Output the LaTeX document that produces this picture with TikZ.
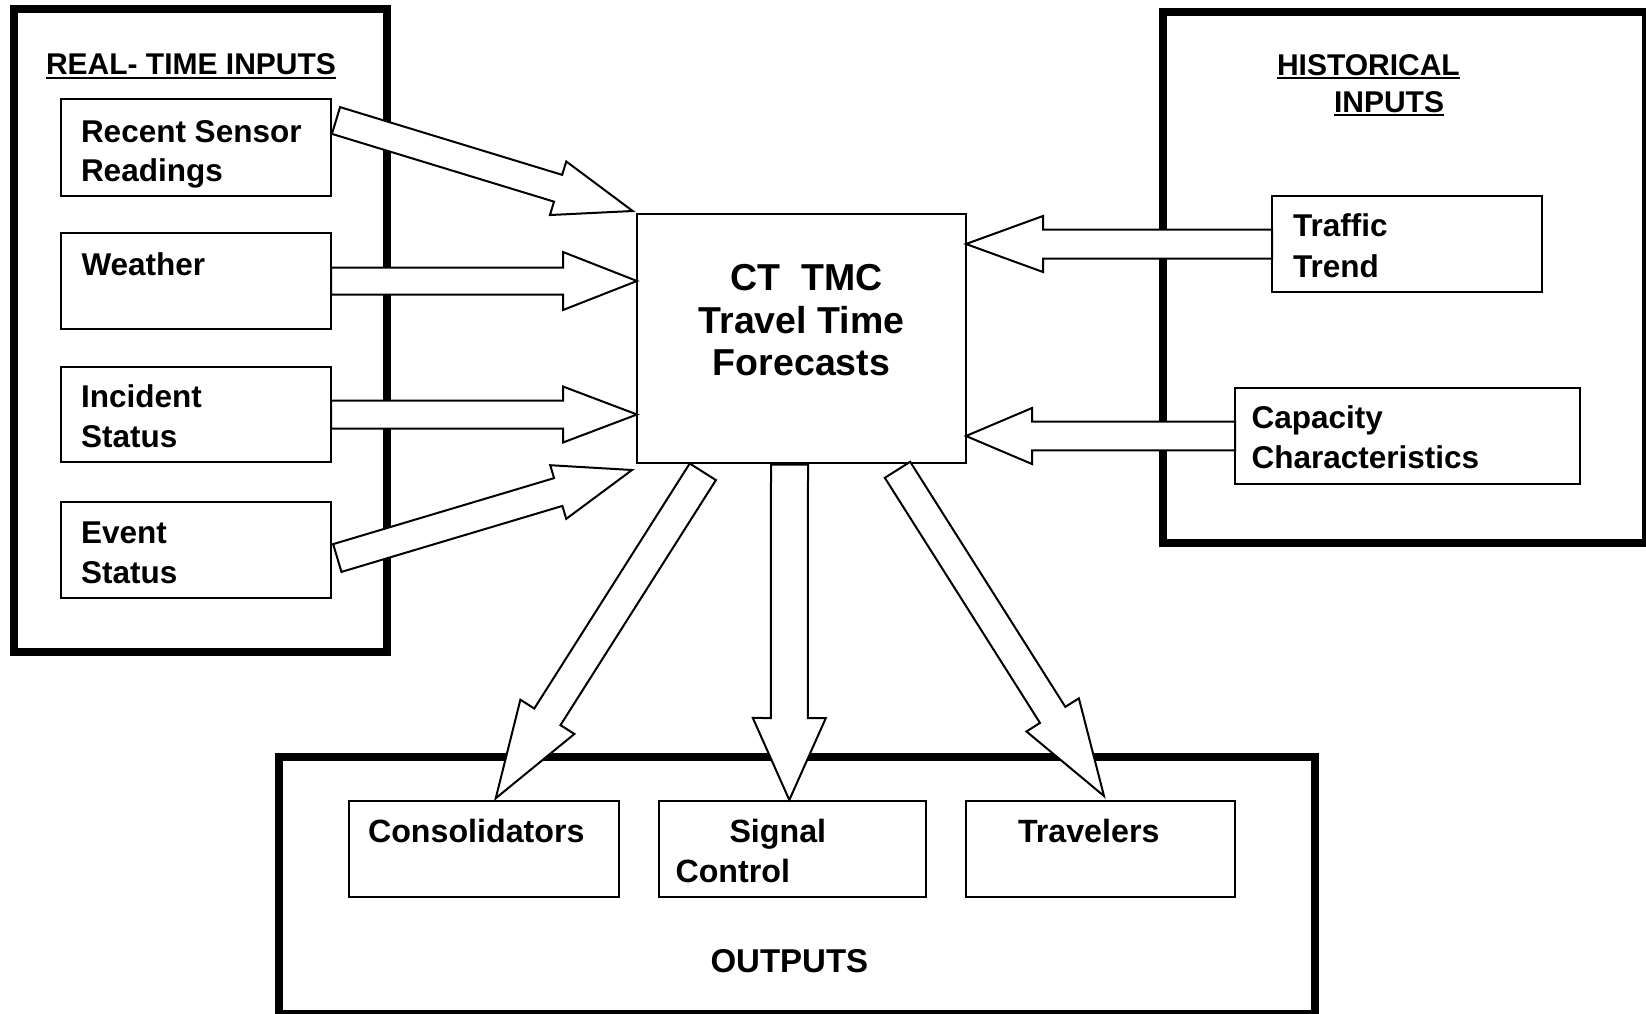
\documentclass[tikz,border=0pt]{standalone}
\usepackage{fontspec}
\setmainfont{Liberation Sans}
\usetikzlibrary{calc}
\newcommand\boxfont{\fontsize{31.5}{38}\selectfont\bfseries}
\newcommand\outfont{\fontsize{32.2}{38}\selectfont\bfseries}
\newcommand\ttlfont{\fontsize{30}{36}\selectfont\bfseries}
\newcommand\cenfont{\fontsize{37.5}{42}\selectfont\bfseries}
% block arrow: #1 shaft half width, #2 head half width, #3 head length, #4 start, #5 tip
\newcommand\barrow[5]{%
  \path ($(#5)!#3!(#4)$) coordinate (hbtmp);
  \draw[arr] ($(#4)!#1!90:(#5)$) -- ($(hbtmp)!#1!90:(#5)$) -- ($(hbtmp)!#2!90:(#5)$) -- (#5)
    -- ($(hbtmp)!#2!-90:(#5)$) -- ($(hbtmp)!#1!-90:(#5)$) -- ($(#4)!#1!-90:(#5)$) -- cycle;
}
\tikzset{
  frame/.style={draw, line width=8pt, inner sep=0pt, outer sep=0pt},
  thinbox/.style={draw, line width=2pt, fill=white, inner sep=0pt, outer sep=0pt, anchor=north west, minimum height=96pt},
  arr/.style={draw, line width=2pt, fill=white, line join=miter},
  lbl/.style={font=\boxfont, anchor=base west, inner sep=0pt, outer sep=0pt},
  olbl/.style={font=\outfont, anchor=base west, inner sep=0pt, outer sep=0pt},
  ttl/.style={font=\ttlfont, anchor=base west, inner sep=0pt, outer sep=0pt},
  cen/.style={font=\cenfont, anchor=base, inner sep=0pt, outer sep=0pt},
  uline/.style={line width=2pt}
}
\begin{document}
\begin{tikzpicture}[x=1pt,y=-1pt]
\useasboundingbox (0,0) rectangle (1646,1013);
\fill[white] (0,0) rectangle (1646,1013);

% big frames
\node[frame, minimum width=373pt, minimum height=643pt] (rtframe) at (200.5,330.5) {};
\node[frame, minimum width=482.7pt, minimum height=531pt] (hframe) at (1404.35,277.5) {};
\node[frame, minimum width=1036pt, minimum height=257.5pt] (oframe) at (796.7,885.25) {};

% titles
\node[ttl] (rtt) at (46,74) {REAL- TIME INPUTS};
\draw[uline] ($(rtt.base west)+(0,3.5)$) -- ($(rtt.base east)+(0,3.5)$);
\node[ttl] (ht1) at (1277,75) {HISTORICAL};
\draw[uline] ($(ht1.base west)+(0,2.5)$) -- ($(ht1.base east)+(0,2.5)$);
\node[ttl] (ht2) at (1334,112.5) {INPUTS};
\draw[uline] ($(ht2.base west)+(0,2.5)$) -- ($(ht2.base east)+(0,2.5)$);
\node[olbl, font=\fontsize{33}{38}\selectfont\bfseries] (outt) at (710.5,972) {OUTPUTS};

% boxes
\node[thinbox, minimum width=270pt, minimum height=97pt] (rs) at (61,99) {};
\node[thinbox, minimum width=270pt] (we) at (61,233) {};
\node[thinbox, minimum width=270pt, minimum height=95pt] (ic) at (61,367) {};
\node[thinbox, minimum width=270pt] (ev) at (61,502) {};
\node[thinbox, minimum width=329pt, minimum height=248.7pt] (ct) at (637,214) {};
\node[thinbox, minimum width=270pt] (tt) at (1272,196) {};
\node[thinbox, minimum width=345pt] (cap) at (1235,388) {};
\node[thinbox, minimum width=270pt] (con) at (349,801) {};
\node[thinbox, minimum width=267pt] (sig) at (659,801) {};
\node[thinbox, minimum width=269.5pt] (trv) at (965.5,801) {};

% arrow end points
\coordinate (a1s) at ($(rs.north east)+(5,21.5)$);
\coordinate (a1t) at ($(ct.north west)+(-4.3,-3)$);
\coordinate (a2t) at (ct.west |- we.east);
\coordinate (a3t) at (ct.west |- ic.east);
\coordinate (a4s) at ($(ev.east)+(6.3,8)$);
\coordinate (a4t) at ($(ct.south west)+(-5,7.3)$);
\coordinate (a5t) at (ct.east |- tt.west);
\coordinate (a6t) at (ct.east |- cap.west);
\coordinate (d1s) at ($(ct.south)+(-98.7,9.1)$);
\coordinate (d1t) at ($(con.north)+(11.7,-2.7)$);
\coordinate (d2s) at ($(ct.south)+(-12,2)$);
\coordinate (d2t) at ($(sig.north)+(-3.2,-1)$);
\coordinate (d3s) at ($(ct.south)+(96,7.1)$);
\coordinate (d3t) at ($(trv.north)+(3.75,-5)$);

% arrows
\barrow{14pt}{28pt}{78pt}{a1s}{a1t}
\barrow{13.5pt}{29pt}{74pt}{we.east}{a2t}
\barrow{14pt}{28pt}{74pt}{ic.east}{a3t}
\barrow{14.5pt}{28pt}{77pt}{a4s}{a4t}
\barrow{14.5pt}{28pt}{77pt}{tt.west}{a5t}
\barrow{14.3pt}{28pt}{66pt}{cap.west}{a6t}
\barrow{15.5pt}{32pt}{96.5pt}{d1s}{d1t}
\barrow{18.5pt}{36.5pt}{82pt}{d2s}{d2t}
\barrow{15pt}{31pt}{96pt}{d3s}{d3t}

% box texts
\node[lbl] (rs1) at (81,142) {Recent Sensor};
\node[lbl] (rs2) at (81,181) {Readings};
\node[lbl] (we1) at (81.5,275) {Weather};
\node[lbl] (ic1) at (81,407) {Incident};
\node[lbl] (ic2) at (81,447) {Status};
\node[lbl] (ev1) at (81,543) {Event};
\node[lbl] (ev2) at (81,583) {Status};
\node[cen] (ct1) at (806.5,290) {CT\ \ TMC};
\node[cen] (ct2) at (801.5,333) {Travel Time};
\node[cen] (ct3) at (801.5,375) {Forecasts};
\node[lbl] (tt1) at (1293,236) {Traffic};
\node[lbl] (tt2) at (1293,277) {Trend};
\node[lbl] (cap1) at (1251.5,428.5) {Capacity};
\node[lbl] (cap2) at (1251.5,468) {Characteristics};
\node[olbl] (con1) at (368,842) {Consolidators};
\node[olbl] (sig1) at (729.5,842) {Signal};
\node[olbl] (sig2) at (675.5,882) {Control};
\node[olbl] (trv1) at (1018,842) {Travelers};
\end{tikzpicture}
\end{document}
